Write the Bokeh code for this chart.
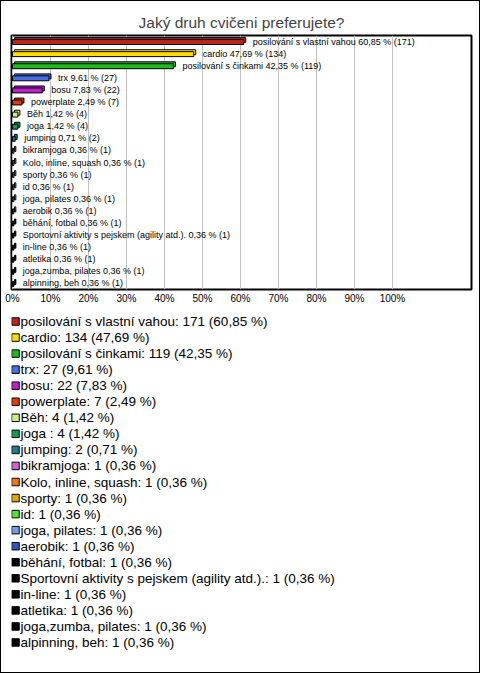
from bokeh.plotting import figure
from bokeh.layouts import column
from bokeh.models import (ColumnDataSource, FactorRange, Range1d, FixedTicker,
                          PrintfTickFormatter)
from bokeh.transform import dodge
from bokeh.embed import file_html
from bokeh.resources import INLINE
from bokeh.core.properties import value

title_text = "Jaký druh cvičeni preferujete?"

categories = [
    "posilování s vlastní vahou", "cardio", "posilování s činkami", "trx", "bosu",
    "powerplate", "Běh", "joga ", "jumping", "bikramjoga", "Kolo, inline, squash",
    "sporty", "id", "joga, pilates", "aerobik", "běhání, fotbal",
    "Sportovní aktivity s pejskem (agility atd.).", "in-line", "atletika",
    "joga,zumba, pilates", "alpinning, beh",
]
counts = [171, 134, 119, 27, 22, 7, 4, 4, 2, 1, 1, 1, 1, 1, 1, 1, 1, 1, 1, 1, 1]
percents = [60.85, 47.69, 42.35, 9.61, 7.83, 2.49, 1.42, 1.42, 0.71, 0.36, 0.36,
            0.36, 0.36, 0.36, 0.36, 0.36, 0.36, 0.36, 0.36, 0.36, 0.36]
colors = ["#b8261c", "#ffdd00", "#22b822", "#4a6ee0", "#bb22cc", "#dd3a11", "#ccee88",
          "#1a9a5a", "#227a8a", "#cc66cc", "#ee7711", "#ddaa00", "#55dd33", "#7799ee",
          "#3355bb", "#000000", "#000000", "#000000", "#000000", "#000000", "#000000"]
x_ticks = [0, 10, 20, 30, 40, 50, 60, 70, 80, 90, 100]


def fmt(v):
    return f"{v:.2f}".replace(".", ",")


bar_labels = [f"{c} {fmt(p)} % ({n})" for c, p, n in zip(categories, percents, counts)]
legend_labels = [f"{c}: {n} ({fmt(p)} %)" for c, p, n in zip(categories, percents, counts)]

src = ColumnDataSource(dict(cat=categories, pct=percents, n=counts, color=colors,
                            bar_label=bar_labels, legend_label=legend_labels,
                            zero=[0] * len(categories)))

FONT = "Liberation Sans"

# ---------------- bar chart ----------------
p = figure(width=478, height=305, output_backend="svg", toolbar_location=None,
           y_range=FactorRange(factors=categories[::-1]), x_range=Range1d(-0.26, 120.8),
           min_border_left=10, min_border_right=8, min_border_top=34, min_border_bottom=17)

p.title.text = title_text
p.title.align = "center"
p.title.text_font = FONT
p.title.text_font_size = "15.5px"
p.title.text_font_style = "normal"
p.title.standoff = 9

p.outline_line_color = "black"
p.outline_line_width = 2

p.yaxis.visible = False
p.ygrid.grid_line_color = None
p.xgrid.ticker = FixedTicker(ticks=x_ticks)
p.xgrid.grid_line_color = "#c0c0c0"

p.xaxis.ticker = FixedTicker(ticks=x_ticks)
p.xaxis.formatter = PrintfTickFormatter(format="%d%%")
p.xaxis.axis_line_color = None
p.xaxis.major_tick_line_color = None
p.xaxis.minor_tick_line_color = None
p.xaxis.major_tick_out = 0
p.xaxis.major_tick_in = 0
p.xaxis.major_label_standoff = 3
p.xaxis.major_label_text_font = FONT
p.xaxis.major_label_text_font_size = "10px"
p.xaxis.major_label_text_color = "black"

# 3D-like extrusion (back face), then the front face
p.hbar(y=dodge("cat", 0.12, range=p.y_range), left=0.53, right=dodge("pct", 0.53),
       height=0.41, source=src, fill_color="color", line_color="black", line_width=1)
p.hbar(y=dodge("cat", -0.04, range=p.y_range), left=0, right="pct",
       height=0.41, source=src, fill_color="color", line_color="black", line_width=1)

p.text(x="pct", y="cat", text="bar_label", source=src, x_offset=9,
       text_baseline="middle", text_align="left", text_color="black",
       text_font=value(FONT), text_font_size=value("9px"))

# ---------------- legend block ----------------
lg = figure(width=478, height=366, output_backend="svg", toolbar_location=None,
            y_range=FactorRange(factors=categories[::-1]), x_range=Range1d(-4, 456),
            x_axis_location=None, y_axis_location=None,
            min_border_left=10, min_border_right=8, min_border_top=7, min_border_bottom=22)
lg.outline_line_color = None
lg.xgrid.grid_line_color = None
lg.ygrid.grid_line_color = None

lg.scatter(x="zero", y="cat", source=src, marker="square", size=7.5,
           fill_color="color", line_color="black", line_width=1)
lg.text(x="zero", y="cat", text="legend_label", source=src, x_offset=5,
        text_baseline="middle", text_align="left", text_color="black",
        text_font=value(FONT), text_font_size=value("13.5px"))

layout = column(p, lg, spacing=0, styles={"border": "1px solid black"})

open("out.html", "w").write(file_html(layout, INLINE))
